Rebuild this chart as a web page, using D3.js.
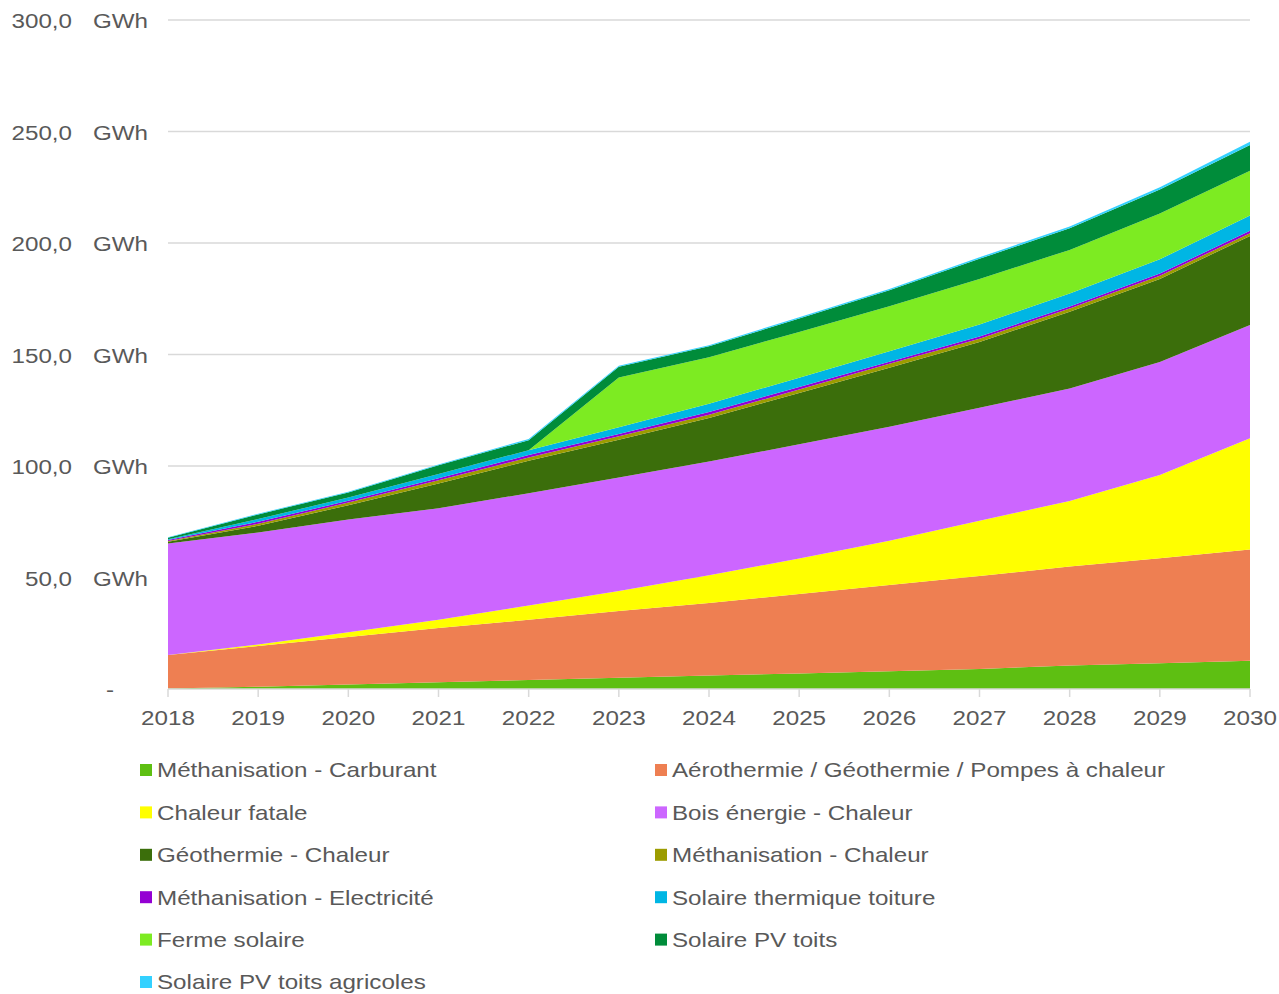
<!DOCTYPE html>
<html>
<head>
<meta charset="utf-8">
<script src="https://cdn.jsdelivr.net/npm/d3@7"></script>
<style>
  body { margin: 0; background: #fff; }
  svg { display: block; }
  text { font-family: "Liberation Sans", Arial, sans-serif; fill: #595959; }
</style>
</head>
<body>
<svg id="chart" width="1279" height="994"></svg>
<script>
const years = [2018, 2019, 2020, 2021, 2022, 2023, 2024, 2025, 2026, 2027, 2028, 2029, 2030]

const methCarburant = [0.2, 1, 2, 3, 4, 5, 6, 7, 8, 9, 10.5, 11.5, 12.7]
const aerothermie   = [15, 18.3, 21.3, 24.4, 27, 30, 32.6, 35.6, 38.6, 41.7, 44.4, 47.1, 49.9]
const chaleurFatale = [0, 0.7, 2.2, 3.6, 6.5, 9, 12.4, 15.9, 19.9, 24.8, 29.4, 37.4, 49.8]
const boisEnergie   = [50, 50.2, 50.5, 50, 50.3, 50.8, 51, 51.2, 51.1, 50.6, 50.5, 50.6, 50.8]
const geothermie    = [0.8, 3, 6.4, 11.1, 14.5, 17, 19.5, 23, 26.5, 29.5, 34.4, 37.3, 39.9]
const methChaleur   = [0.4, 0.9, 1.2, 1.5, 1.5, 1.5, 1.5, 1.6, 1.7, 1.5, 1.4, 1.4, 1.3]
const methElec      = [0.4, 0.9, 0.8, 0.9, 1.1, 1.1, 1.2, 1.1, 1.0, 1.0, 0.9, 1.0, 1.1]
const solaireTherm  = [0.4, 1.2, 1.5, 1.9, 2.2, 3.0, 3.7, 4.2, 4.7, 5.3, 5.9, 6.4, 6.8]
const fermeSolaire  = [0, 0, 0, 0, 0, 22.3, 20.9, 20.5, 20.1, 20.5, 19.5, 20.5, 20.1]
const pvToits       = [0.6, 2.1, 2.2, 3.9, 4.5, 4.8, 4.9, 6, 7.2, 9, 9.7, 10.8, 11.6]
const pvAgricoles   = [0.2, 0.3, 0.3, 0.4, 0.5, 0.5, 0.5, 0.6, 0.6, 0.7, 0.8, 1.0, 1.4]

const yTicks = [0, 50, 100, 150, 200, 250, 300]

const series = [
  {key: "Méthanisation - Carburant", values: methCarburant, color: "#5ebf12"},
  {key: "Aérothermie / Géothermie / Pompes à chaleur", values: aerothermie, color: "#ee7f52"},
  {key: "Chaleur fatale", values: chaleurFatale, color: "#ffff00"},
  {key: "Bois énergie - Chaleur", values: boisEnergie, color: "#cc66ff"},
  {key: "Géothermie - Chaleur", values: geothermie, color: "#3b6e0b"},
  {key: "Méthanisation - Chaleur", values: methChaleur, color: "#9c9c00"},
  {key: "Méthanisation - Electricité", values: methElec, color: "#9400d3"},
  {key: "Solaire thermique toiture", values: solaireTherm, color: "#00b6e4"},
  {key: "Ferme solaire", values: fermeSolaire, color: "#7deb22"},
  {key: "Solaire PV toits", values: pvToits, color: "#008c3a"},
  {key: "Solaire PV toits agricoles", values: pvAgricoles, color: "#33d1ff"},
]

// table for d3.stack
const table = years.map((year, i) => {
  const row = {year}
  series.forEach(s => row[s.key] = s.values[i])
  return row
})

const margin = {left: 168, right: 29, top: 20, bottom: 305}
const width = 1279, height = 994
const stretch = 1.18
const fontSize = 20.5

const svg = d3.select("#chart")
const x = d3.scaleLinear().domain([2018, 2030]).range([margin.left, width - margin.right])
const y = d3.scaleLinear().domain([0, 300]).range([height - margin.bottom, margin.top])

function label(g, text, px, py, anchor) {
  return g.append("text")
    .attr("transform", `translate(${px},${py}) scale(${stretch},1)`)
    .attr("text-anchor", anchor || "start")
    .attr("dominant-baseline", "middle")
    .style("font-size", fontSize + "px")
    .text(text)
}

// grid
svg.append("g")
  .selectAll("line")
  .data(yTicks.filter(d => d > 0))
  .join("line")
    .attr("x1", x(2018))
    .attr("x2", x(2030))
    .attr("y1", d => y(d))
    .attr("y2", d => y(d))
    .attr("stroke", "#d9d9d9")
    .attr("stroke-width", 1.3)

// y labels
const yLab = svg.append("g")
yTicks.forEach(t => {
  if (t === 0) {
    label(yLab, "-", 110, y(t) + 3, "middle")
  } else {
    label(yLab, d3.format(".1f")(t).replace(".", ","), 72, y(t) + 3, "end")
    label(yLab, "GWh", 93, y(t) + 3, "start")
  }
})

// areas
const stack = d3.stack().keys(series.map(s => s.key))
const layers = stack(table)
const area = d3.area()
  .x(d => x(d.data.year))
  .y0(d => y(d[0]))
  .y1(d => y(d[1]))

svg.append("g")
  .selectAll("path")
  .data(layers)
  .join("path")
    .attr("d", area)
    .attr("fill", (d, i) => series[i].color)

// x axis
const xAxis = svg.append("g")
xAxis.append("line")
  .attr("x1", x(2018)).attr("x2", x(2030))
  .attr("y1", y(0)).attr("y2", y(0))
  .attr("stroke", "#d9d9d9").attr("stroke-width", 1.5)
xAxis.selectAll("line.tick")
  .data(years)
  .join("line")
    .attr("class", "tick")
    .attr("x1", d => x(d)).attr("x2", d => x(d))
    .attr("y1", y(0)).attr("y2", y(0) + 8)
    .attr("stroke", "#d9d9d9").attr("stroke-width", 1.5)
years.forEach(yr => label(xAxis, String(yr), x(yr), 720, "middle"))

// legend
const legend = svg.append("g")
series.forEach((s, i) => {
  const col = i % 2, row = Math.floor(i / 2)
  const lx = col === 0 ? 140 : 655
  const ly = 770 + row * 42.4
  legend.append("rect")
    .attr("x", lx).attr("y", ly - 6)
    .attr("width", 12).attr("height", 12)
    .attr("fill", s.color)
  label(legend, s.key, lx + 17, ly + 2, "start")
})
</script>
</body>
</html>
